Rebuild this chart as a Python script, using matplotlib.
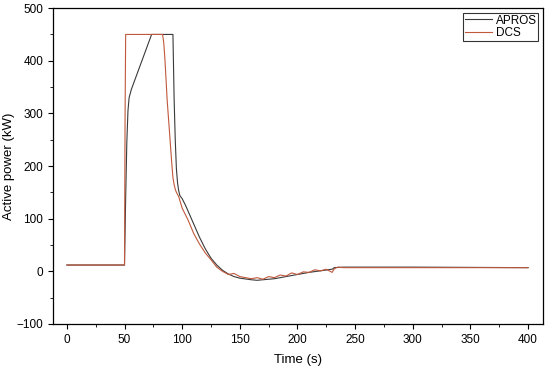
import matplotlib.pyplot as plt
from matplotlib.ticker import MultipleLocator

plt.rcParams['font.family'] = ['Liberation Sans', 'DejaVu Sans']

# APROS simulation
apros_t = [0, 50, 51, 52, 53, 54, 56, 73.5, 92, 93, 94, 95, 96, 97, 98,
           100, 103, 106, 110, 115, 120, 125, 130, 135, 140, 145, 150, 160, 165, 170,
           180, 190, 200, 210, 220, 230, 232, 240, 300, 400]
apros_p = [12, 12, 140, 245, 305, 330, 346, 450, 450, 330, 250, 195, 168, 153, 144,
           138, 125, 110, 90, 65, 43, 25, 12, 2, -5, -10, -13, -16, -17, -16,
           -14, -10, -6, -2, 1, 4, 7, 8, 8, 7]

# DCS measurement
dcs_t = [0, 50, 50.5, 51, 83, 84, 85, 86, 87, 88, 89, 90, 91, 92, 93, 94, 95, 97,
         100, 105, 110, 115, 120, 125, 130, 135, 140, 145, 150, 155, 160, 165, 170, 175,
         180, 185, 190, 195, 200, 205, 210, 215, 220, 225, 230, 232, 235, 240, 250, 300, 400]
dcs_p = [12, 12, 300, 450, 450, 435, 405, 365, 325, 295, 265, 235, 205, 178, 165, 156, 150, 142,
         120, 98, 72, 52, 35, 22, 8, 0, -6, -4, -10, -12, -14, -12, -15, -10,
         -12, -7, -9, -3, -6, -1, -2, 3, 1, 4, -2, 5, 8, 7, 7, 7, 7]

fig = plt.figure(figsize=(5.5, 3.69), dpi=100)
ax = fig.add_axes([0.0964, 0.122, 0.891, 0.856])

ax.plot(apros_t, apros_p, color='#3a3a3a', lw=0.8, label='APROS')
ax.plot(dcs_t, dcs_p, color='#c0583a', lw=0.8, label='DCS')

ax.set_xlim(-12, 413)
ax.set_ylim(-100, 500)
ax.xaxis.set_major_locator(MultipleLocator(50))
ax.xaxis.set_minor_locator(MultipleLocator(25))
ax.yaxis.set_major_locator(MultipleLocator(100))
ax.yaxis.set_minor_locator(MultipleLocator(50))
ax.tick_params(which='both', direction='out', top=False, right=False, labelsize=8.5)
ax.tick_params(which='major', length=3.5)
ax.tick_params(which='minor', length=2)
for s in ax.spines.values():
    s.set_linewidth(0.9)

ax.set_xlabel('Time (s)', fontsize=9.5, labelpad=6)
ax.set_ylabel('Active power (kW)', fontsize=9.5, labelpad=1)

leg = ax.legend(loc='upper right', fontsize=8.5, frameon=True, fancybox=False,
                edgecolor='black', borderpad=0.15, handlelength=2.3, handletextpad=0.3,
                labelspacing=0.05, borderaxespad=0.4)
leg.get_frame().set_linewidth(0.8)

fig.savefig('out.png', dpi=100)
